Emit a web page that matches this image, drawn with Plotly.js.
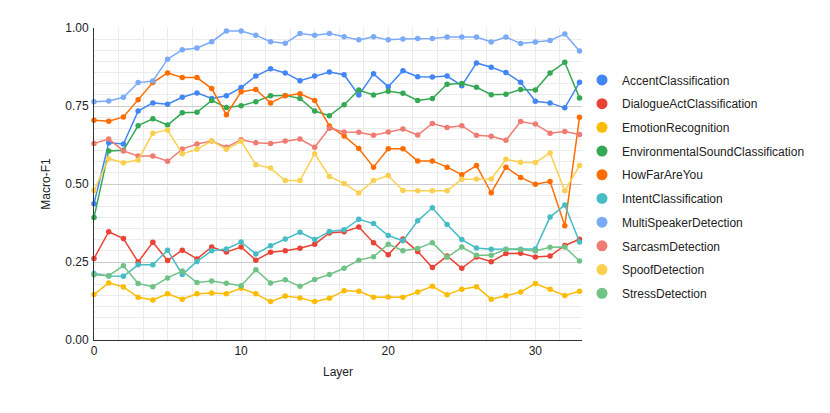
<!DOCTYPE html>
<html>
<head>
<meta charset="utf-8">
<script src="https://cdn.plot.ly/plotly-3.0.1.min.js"></script>
<style>html,body{margin:0;padding:0;background:#fff;}#chart{width:830px;height:413px;}</style>
</head>
<body>
<div id="chart"></div>
<script>
const layers = Array.from({length: 34}, (_, i) => i);

const seriesNames = ["AccentClassification","DialogueActClassification","EmotionRecognition","EnvironmentalSoundClassification","HowFarAreYou","IntentClassification","MultiSpeakerDetection","SarcasmDetection","SpoofDetection","StressDetection"];
const seriesColors = ["#4285F4","#EA4335","#FBBC04","#34A853","#FF6D01","#46BDC6","#7BAAF7","#F07B72","#FCD04F","#71C287"];

const accent = [0.437,0.632,0.628,0.734,0.760,0.756,0.778,0.792,0.774,0.783,0.809,0.846,0.869,0.856,0.831,0.846,0.859,0.850,0.785,0.853,0.812,0.863,0.844,0.843,0.846,0.815,0.888,0.874,0.857,0.826,0.765,0.760,0.744,0.826];
const dialogueAct = [0.261,0.347,0.325,0.250,0.313,0.255,0.288,0.260,0.298,0.282,0.298,0.256,0.281,0.286,0.294,0.307,0.343,0.347,0.362,0.312,0.273,0.324,0.284,0.232,0.269,0.230,0.266,0.251,0.277,0.278,0.266,0.269,0.303,0.323];
const emotion = [0.146,0.183,0.170,0.137,0.128,0.148,0.131,0.148,0.151,0.148,0.166,0.148,0.123,0.141,0.135,0.123,0.134,0.158,0.156,0.137,0.138,0.137,0.154,0.172,0.145,0.163,0.171,0.131,0.142,0.154,0.181,0.163,0.143,0.156];
const environmental = [0.393,0.606,0.608,0.687,0.709,0.689,0.728,0.730,0.768,0.745,0.751,0.764,0.783,0.784,0.774,0.734,0.719,0.754,0.801,0.785,0.797,0.791,0.768,0.774,0.820,0.822,0.810,0.786,0.788,0.803,0.801,0.856,0.890,0.776];
const howFar = [0.704,0.701,0.715,0.770,0.825,0.856,0.841,0.841,0.806,0.722,0.796,0.803,0.760,0.783,0.789,0.768,0.686,0.654,0.614,0.554,0.613,0.613,0.574,0.574,0.554,0.530,0.559,0.472,0.554,0.521,0.499,0.508,0.366,0.714];
const intent = [0.213,0.205,0.204,0.241,0.241,0.288,0.210,0.252,0.286,0.292,0.314,0.276,0.302,0.324,0.345,0.322,0.348,0.353,0.387,0.373,0.335,0.318,0.382,0.424,0.370,0.322,0.295,0.291,0.291,0.291,0.292,0.394,0.433,0.314];
const multiSpeaker = [0.764,0.766,0.778,0.825,0.830,0.900,0.930,0.936,0.956,0.990,0.990,0.977,0.956,0.951,0.982,0.977,0.982,0.972,0.962,0.972,0.962,0.965,0.966,0.966,0.971,0.971,0.971,0.955,0.971,0.950,0.955,0.960,0.981,0.926];
const sarcasm = [0.630,0.644,0.606,0.590,0.590,0.573,0.612,0.628,0.638,0.618,0.642,0.632,0.630,0.638,0.644,0.618,0.679,0.667,0.666,0.656,0.667,0.676,0.657,0.694,0.681,0.687,0.656,0.653,0.640,0.700,0.692,0.663,0.668,0.659];
const spoof = [0.479,0.581,0.568,0.577,0.663,0.673,0.597,0.611,0.638,0.611,0.637,0.562,0.551,0.511,0.511,0.597,0.524,0.502,0.471,0.511,0.527,0.479,0.478,0.478,0.478,0.515,0.516,0.516,0.579,0.570,0.569,0.599,0.478,0.559];
const stress = [0.209,0.206,0.238,0.181,0.171,0.199,0.221,0.184,0.189,0.182,0.174,0.225,0.183,0.193,0.172,0.194,0.210,0.230,0.256,0.267,0.307,0.286,0.293,0.312,0.265,0.298,0.272,0.272,0.291,0.290,0.285,0.297,0.298,0.253];

const yTickVals = [0, 0.25, 0.5, 0.75, 1.0];
const yTickText = ["0.00", "0.25", "0.50", "0.75", "1.00"];
const xTickVals = [0, 10, 20, 30];
const xTickText = ["0", "10", "20", "30"];

const allSeries = [accent, dialogueAct, emotion, environmental, howFar, intent, multiSpeaker, sarcasm, spoof, stress];

const traces = [];
allSeries.forEach((vals, k) => {
  traces.push({
    type: 'scatter', mode: 'lines+markers',
    x: layers, y: vals, name: seriesNames[k],
    line: {color: seriesColors[k], width: 1.5},
    marker: {color: seriesColors[k], size: 5.5},
    showlegend: false, cliponaxis: false, hoverinfo: 'x+y+name'
  });
});
// legend entries (circle only)
seriesNames.forEach((nm, k) => {
  traces.push({
    type: 'scatter', mode: 'markers', x: [null], y: [null], name: nm,
    legendgroup: 'g' + k,
    marker: {color: seriesColors[k], size: 11, symbol: 'circle'},
    showlegend: true, hoverinfo: 'skip'
  });
});

const font = "'Liberation Sans', Arial, sans-serif";

const layout = {
  width: 830, height: 413,
  margin: {l: 94, r: 248, t: 28, b: 73, pad: 0},
  paper_bgcolor: '#ffffff', plot_bgcolor: '#ffffff',
  font: {family: font, size: 12, color: '#222222'},
  showlegend: true,
  legend: {
    x: 1.0, xanchor: 'left', y: 0.88, yanchor: 'top',
    font: {family: font, size: 12, color: '#222222'},
    tracegroupgap: 4.7, bgcolor: 'rgba(0,0,0,0)', borderwidth: 0
  },
  xaxis: {
    range: [0, 33.17],
    tickmode: 'array', tickvals: xTickVals, ticktext: xTickText,
    showgrid: true, gridcolor: '#ebebeb', gridwidth: 1,
    minor: {dtick: 10/6, tick0: 0, showgrid: true, gridcolor: '#ebebeb', gridwidth: 1},
    zeroline: false,
    showline: true, linecolor: '#333333', linewidth: 1,
    ticks: '', tickfont: {family: font, size: 12, color: '#222222'},
    title: {text: 'Layer', font: {family: font, size: 12, color: '#222222'}, standoff: 10},
    automargin: false
  },
  yaxis: {
    range: [0, 1.0],
    tickmode: 'array', tickvals: yTickVals, ticktext: yTickText,
    showgrid: true, gridcolor: '#cccccc', gridwidth: 1,
    minor: {dtick: 0.25/7, tick0: 0, showgrid: true, gridcolor: '#ebebeb', gridwidth: 1},
    zeroline: false,
    showline: true, linecolor: '#333333', linewidth: 1,
    ticks: '', ticklen: 0, ticklabelstandoff: 2, tickfont: {family: font, size: 12, color: '#222222'},
    title: {text: 'Macro-F1', font: {family: font, size: 12, color: '#222222'}, standoff: 12},
    automargin: false
  }
};

Plotly.newPlot('chart', traces, layout, {displayModeBar: false, staticPlot: true});
</script>
</body>
</html>
